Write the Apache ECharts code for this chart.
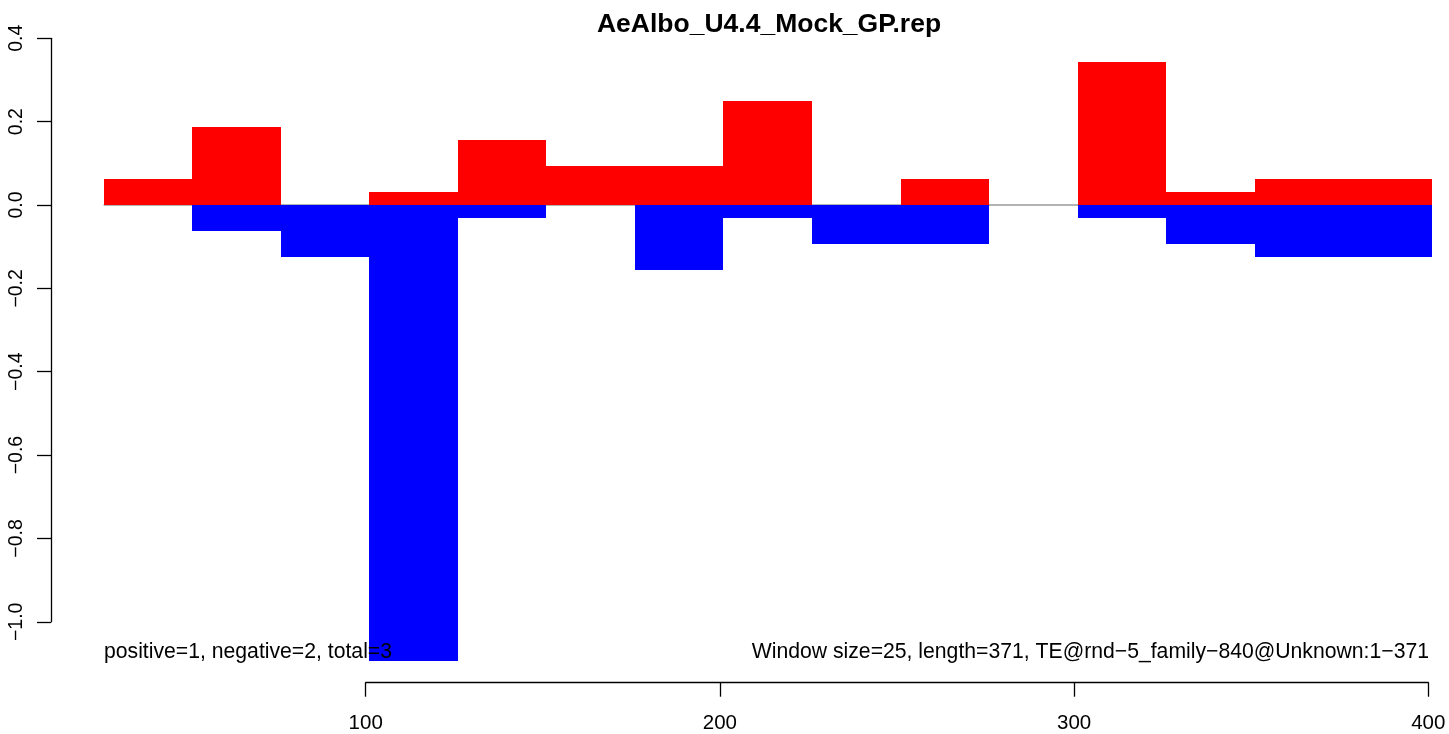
<!DOCTYPE html>
<html>
<head>
<meta charset="utf-8">
<title>AeAlbo_U4.4_Mock_GP.rep</title>
<script src="https://cdn.jsdelivr.net/npm/echarts@6/dist/echarts.min.js"></script>
<style>
  html, body { margin: 0; padding: 0; background: #fff; }
  #main { width: 1449px; height: 734px; }
</style>
</head>
<body>
<div id="main"></div>
<script>
// window start of each bin (window size 25)
var BIN = 25;
var binStart = [26, 51, 76, 101, 126, 151, 176, 201, 226, 251, 276, 301, 326, 351, 376];
// positive strand (red) and negative strand (blue) values
var posVals = [0.0625, 0.1875, 0, 0.03125, 0.15625, 0.09375, 0.09375, 0.25, 0, 0.0625, 0, 0.34375, 0.03125, 0.0625, 0.0625];
var negVals = [0, -0.0625, -0.125, -1.09375, -0.03125, 0, -0.15625, -0.03125, -0.09375, -0.09375, 0, -0.03125, -0.09375, -0.125, -0.125];
var xTicks = [100, 200, 300, 400];
var yTicks = [-1.0, -0.8, -0.6, -0.4, -0.2, 0.0, 0.2, 0.4];

var titleText = 'AeAlbo_U4.4_Mock_GP.rep';
var leftNote = 'positive=1, negative=2, total=3';
var rightNote = 'Window size=25, length=371, TE@rnd\u22125_family\u2212840@Unknown:1\u2212371';

var FONT = '"Liberation Sans", Arial, Helvetica, sans-serif';

function pairs(vals) {
  var out = [];
  for (var i = 0; i < binStart.length; i++) {
    if (vals[i] !== 0) out.push([binStart[i], vals[i]]);
  }
  return out;
}

// one rect per bin, from 0 to value, through the axis scale
// (edges snapped to whole pixels so neighbouring bins leave no seam)
function renderBin(params, api) {
  var x0 = api.value(0);
  var v = api.value(1);
  var p0 = api.coord([x0, 0]);
  var p1 = api.coord([x0 + BIN, v]);
  var xa = Math.round(p0[0]), xb = Math.round(p1[0]);
  var ya = Math.round(p0[1]), yb = Math.round(p1[1]);
  return {
    type: 'rect',
    shape: {
      x: xa,
      y: Math.min(ya, yb),
      width: xb - xa,
      height: Math.abs(yb - ya)
    },
    style: { fill: api.visual('color') }
  };
}

var chart = echarts.init(document.getElementById('main'), null, { renderer: 'canvas' });

var option = {
  backgroundColor: '#ffffff',
  animation: false,
  textStyle: { fontFamily: FONT },
  grid: [
    // data area
    { left: 11.5, right: 20.7, top: 38.3, bottom: 28.9, containLabel: false },
    // x axis display (ticks only from 100 to 400)
    { left: 365.7, right: 20.7, top: 600, bottom: 51.3, containLabel: false },
    // y axis display (-1.0 to 0.4)
    { left: 51, width: 10, top: 38.3, bottom: 112.2, containLabel: false }
  ],
  xAxis: [
    { gridIndex: 0, type: 'value', min: 0, max: 400, show: false },
    {
      gridIndex: 1, type: 'value', min: 100, max: 400, interval: 100,
      position: 'bottom',
      axisLine: { show: true, lineStyle: { color: '#000', width: 1.3 } },
      axisTick: { show: true, inside: false, length: 14, lineStyle: { color: '#000', width: 1.3 } },
      axisLabel: { show: true, color: '#000', fontSize: 20.5, fontFamily: FONT, margin: 30,
        showMinLabel: true, showMaxLabel: true },
      splitLine: { show: false }
    },
    { gridIndex: 2, type: 'value', show: false }
  ],
  yAxis: [
    { gridIndex: 0, type: 'value', min: -1.2, max: 0.4, show: false },
    { gridIndex: 1, type: 'value', show: false },
    {
      gridIndex: 2, type: 'value', min: -1.0, max: 0.4, interval: 0.2,
      position: 'left',
      axisLine: { show: true, lineStyle: { color: '#000', width: 1.3 } },
      axisTick: { show: true, inside: false, length: 14, lineStyle: { color: '#000', width: 1.3 } },
      axisLabel: {
        show: true, color: '#000', fontSize: 19.5, fontFamily: FONT, rotate: 90, margin: 24,
        showMinLabel: true, showMaxLabel: true,
        formatter: function (v) { return v.toFixed(1).replace('-', '\u2212'); }
      },
      splitLine: { show: false }
    }
  ],
  series: [
    {
      name: 'zero',
      type: 'line',
      xAxisIndex: 0, yAxisIndex: 0,
      data: [[binStart[0], 0], [binStart[binStart.length - 1] + BIN, 0]],
      symbol: 'none',
      lineStyle: { color: '#999999', width: 1.4 },
      z: 1,
      silent: true
    },
    {
      name: 'positive',
      type: 'custom',
      xAxisIndex: 0, yAxisIndex: 0,
      renderItem: renderBin,
      data: pairs(posVals),
      itemStyle: { color: '#ff0000' },
      z: 2
    },
    {
      name: 'negative',
      type: 'custom',
      xAxisIndex: 0, yAxisIndex: 0,
      renderItem: renderBin,
      data: pairs(negVals),
      itemStyle: { color: '#0000ff' },
      z: 2
    }
  ],
  graphic: [
    {
      type: 'text', x: 769, y: 25, z: 100,
      style: { text: titleText, font: 'bold 26.5px ' + FONT, fill: '#000',
        textAlign: 'center', textVerticalAlign: 'middle' }
    },
    {
      type: 'text', x: 104, y: 652, z: 100,
      style: { text: leftNote, font: '21.2px ' + FONT, fill: '#000',
        textAlign: 'left', textVerticalAlign: 'middle' }
    },
    {
      type: 'text', x: 1429, y: 652, z: 100,
      style: { text: rightNote, font: '21.2px ' + FONT, fill: '#000',
        textAlign: 'right', textVerticalAlign: 'middle' }
    }
  ]
};

chart.setOption(option);
</script>
</body>
</html>
